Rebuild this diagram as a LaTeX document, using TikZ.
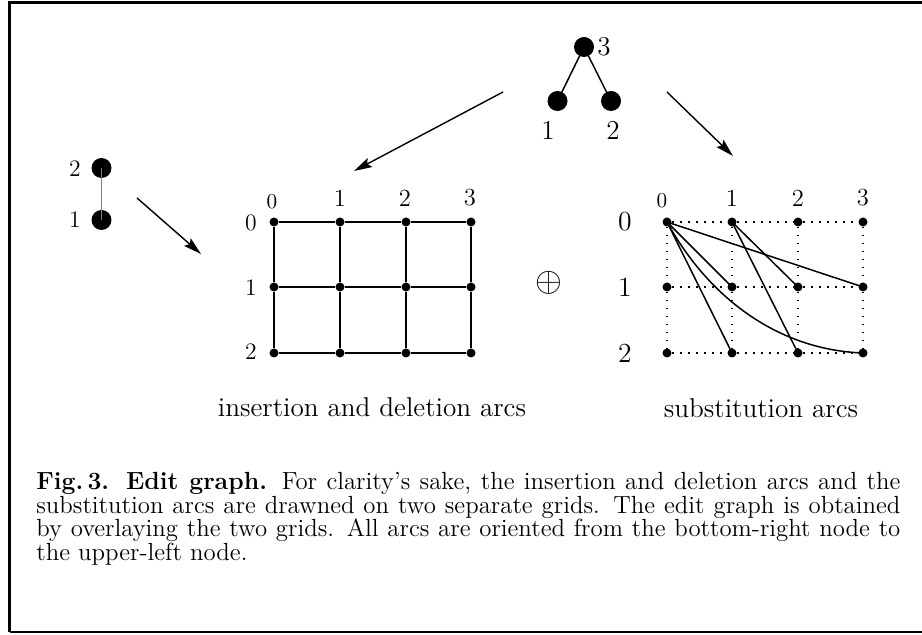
\documentclass[tikz,border=0pt]{standalone}
\usetikzlibrary{arrows.meta}
\newcommand\fsz[1]{\fontsize{#1}{#1}\selectfont}
\tikzset{
  big/.style={circle,fill=black,inner sep=0pt,minimum size=10pt},
  dot/.style={circle,fill=black,inner sep=0pt,minimum size=4.5pt},
  lab/.style={inner sep=0pt},
  arr/.style={line width=0.7pt,-{Stealth[length=9pt,width=5pt,inset=1.5pt]}},
  gl/.style={line width=0.75pt},
  dl/.style={line width=0.8pt,dash pattern=on 0.8pt off 3.2pt},
}
\begin{document}
\begin{tikzpicture}[x=0.5pt,y=-0.5pt]
\useasboundingbox (0,0) rectangle (922,635);
\clip (0,0) rectangle (922,635);
\draw[line width=1.1pt] (9.5,632) -- (9.5,2.5) -- (940,2.5);
\draw[line width=1.1pt] (9.5,632) -- (940,632);

% top tree
\node[big] (n3) at (584,47) {};
\node[big] (n1) at (557.5,101) {};
\node[big] (n2) at (611,101) {};
\draw[gl] (n3.center) -- (n1.center) (n3.center) -- (n2.center);
\node[lab,font=\fsz{13.6}] (l3) at (604,47) {3};
\node[lab,font=\fsz{13.6}] (l1) at (548,130) {1};
\node[lab,font=\fsz{13.6}] (l2) at (613,130) {2};

% left pair
\node[big] (a2) at (101.5,168) {};
\node[big] (a1) at (101.5,220) {};
\draw[line width=0.6pt,gray] (a2.center) -- (a1.center);
\node[lab,font=\fsz{11.8}] (la2) at (75,169) {2};
\node[lab,font=\fsz{11.8}] (la1) at (75,220) {1};

% arrows
\coordinate (s1) at (137,198); \coordinate (e1) at (201,254);
\coordinate (s2) at (503,92);  \coordinate (e2) at (354,171);
\coordinate (s3) at (667,92);  \coordinate (e3) at (733,156);
\draw[arr] (s1) -- (e1);
\draw[arr] (s2) -- (e2);
\draw[arr] (s3) -- (e3);

% left grid
\foreach \i/\x in {0/274,1/340,2/406,3/471}
  \foreach \j/\y in {0/222,1/287,2/353}
    \node[dot] (g\i\j) at (\x,\y) {};
\foreach \j in {0,1,2}
  \draw[gl] (g0\j) -- (g1\j) -- (g2\j) -- (g3\j);
\foreach \i in {0,1,2,3}
  \draw[gl] (g\i0) -- (g\i1) -- (g\i2);
\node[lab,font=\fsz{10.6}] (gc0) at (272,202) {0};
\node[lab,font=\fsz{12.3}] (gc1) at (340,198) {1};
\node[lab,font=\fsz{12.3}] (gc2) at (405,198) {2};
\node[lab,font=\fsz{12.3}] (gc3) at (470,198) {3};
\node[lab,font=\fsz{11.8}] (gr0) at (251,223) {0};
\node[lab,font=\fsz{11.8}] (gr1) at (251,288) {1};
\node[lab,font=\fsz{11.8}] (gr2) at (251,352) {2};

% oplus
\node[lab,font=\fsz{17}] (op) at (549,283) {$\oplus$};

% right grid
\foreach \i/\x in {0/667,1/732,2/798,3/863}
  \foreach \j/\y in {0/222,1/287,2/353}
    \node[dot] (r\i\j) at (\x,\y) {};
\foreach \j in {0,1,2}
  \draw[dl] (r0\j) -- (r1\j) -- (r2\j) -- (r3\j);
\foreach \i in {0,1,2,3}
  \draw[dl] (r\i0) -- (r\i1) -- (r\i2);
\draw[gl] (r00.center) -- (r11.center);
\draw[gl] (r00.center) -- (r31.center);
\draw[gl] (r00.center) -- (r12.center);
\draw[gl] (r00.center) .. controls (710,300) and (780,350) .. (r32.center);
\draw[gl] (r10.center) -- (r21.center);
\draw[gl] (r10.center) -- (r22.center);
\node[lab,font=\fsz{10.6}] (rc0) at (662,201) {0};
\node[lab,font=\fsz{12.3}] (rc1) at (732,198) {1};
\node[lab,font=\fsz{12.3}] (rc2) at (798,198) {2};
\node[lab,font=\fsz{12.3}] (rc3) at (863,198) {3};
\node[lab,font=\fsz{13.8}] (rr0) at (625,222) {0};
\node[lab,font=\fsz{13.8}] (rr1) at (625,287) {1};
\node[lab,font=\fsz{13.8}] (rr2) at (625,353) {2};

% sub-captions
\node[lab,font=\fsz{13.6},anchor=base] (c1) at (372,417) {insertion and deletion arcs};
\node[lab,font=\fsz{13.6},anchor=base] (c2) at (761,418) {substitution arcs};

% caption
\node[lab,anchor=base west] (cap) at (36,490) {\parbox[t]{432pt}{\fontsize{12.4}{11.75}\selectfont
\textbf{Fig.\,3. Edit graph.} For clarity's sake, the insertion and deletion arcs and the\linebreak
substitution arcs are drawned on two separate grids. The edit graph is obtained\linebreak
by overlaying the two grids. All arcs are oriented from the bottom-right node to\linebreak
the upper-left node.}};
\end{tikzpicture}
\end{document}
